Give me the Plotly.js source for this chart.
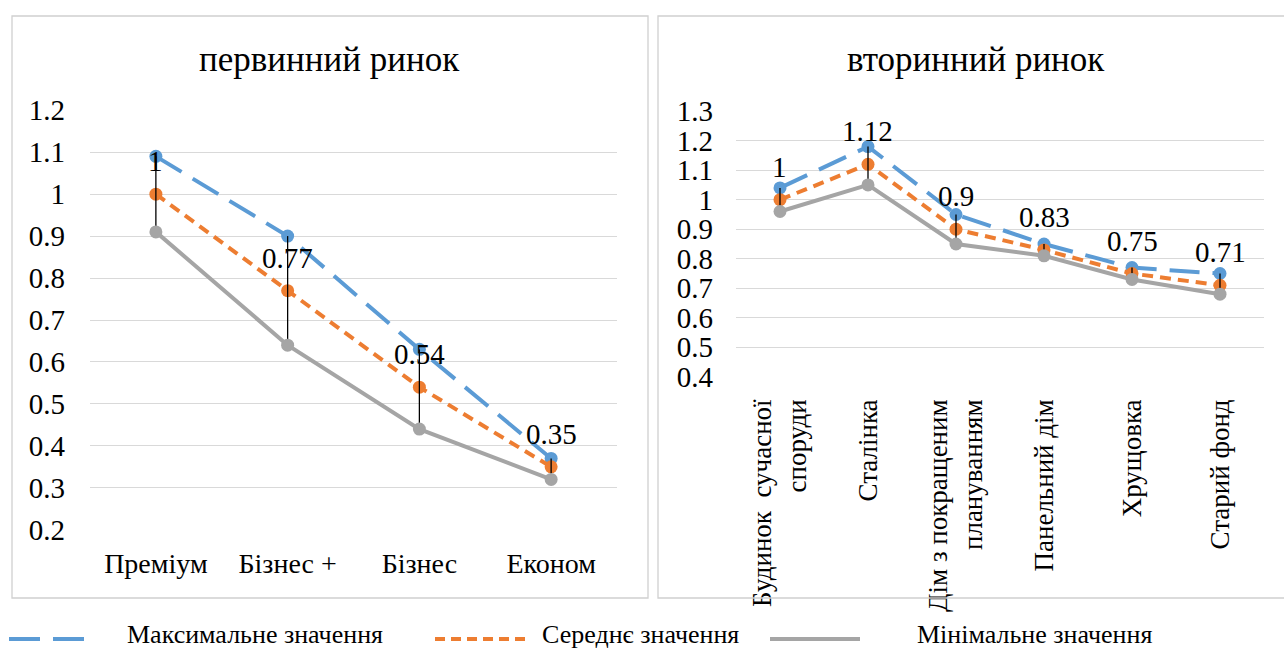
<!DOCTYPE html>
<html>
<head>
<meta charset="utf-8">
<script src="https://cdn.plot.ly/plotly-3.0.1.min.js"></script>
</head>
<body style="margin:0">
<div id="chart" style="width:1284px;height:651px"></div>
<script>
// ---- data ----
const categoriesPrimary = ['Преміум', 'Бізнес +', 'Бізнес', 'Економ'];
const maxPrimary  = [1.09, 0.90, 0.63, 0.37];
const meanPrimary = [1.00, 0.77, 0.54, 0.35];
const minPrimary  = [0.91, 0.64, 0.44, 0.32];

const categoriesSecondary = ['Будинок  сучасної<br>споруди', 'Сталінка', 'Дім з покращеним<br>плануванням', 'Панельний дім', 'Хрущовка', 'Старий фонд'];
const maxSecondary  = [1.04, 1.18, 0.95, 0.85, 0.77, 0.75];
const meanSecondary = [1.00, 1.12, 0.90, 0.83, 0.75, 0.71];
const minSecondary  = [0.96, 1.05, 0.85, 0.81, 0.73, 0.68];

const seriesNames = ['Максимальне значення', 'Середнє значення', 'Мінімальне значення'];
const titles = ['первинний ринок', 'вторинний ринок'];

// ---- styling ----
const W = 1284, H = 651;
const FONT = 'Liberation Serif';
const BLUE = '#5B9BD5', ORANGE = '#ED7D31', GREY = '#A5A5A5';
const px = v => v / W;
const py = v => (H - v) / H;

function seriesTraces(cats, maxV, meanV, minV, xa, ya) {
  return [
    {x: cats, y: maxV, xaxis: xa, yaxis: ya, type: 'scatter', mode: 'lines+markers', name: seriesNames[0],
     line: {color: BLUE, width: 4, dash: '30px,13px'}, marker: {color: BLUE, size: 13}, showlegend: false},
    {x: cats, y: meanV, xaxis: xa, yaxis: ya, type: 'scatter', mode: 'lines+markers', name: seriesNames[1],
     line: {color: ORANGE, width: 4, dash: '11px,7px'}, marker: {color: ORANGE, size: 13}, showlegend: false},
    {x: cats, y: minV, xaxis: xa, yaxis: ya, type: 'scatter', mode: 'lines+markers', name: seriesNames[2],
     line: {color: GREY, width: 4}, marker: {color: GREY, size: 13}, showlegend: false,
     error_y: {type: 'data', symmetric: false, array: maxV.map((v, i) => v - minV[i]), arrayminus: minV.map(() => 0),
               width: 0, thickness: 1.3, color: '#000'}}
  ];
}

const data = [
  ...seriesTraces(categoriesPrimary, maxPrimary, meanPrimary, minPrimary, 'x', 'y'),
  ...seriesTraces(categoriesSecondary, maxSecondary, meanSecondary, minSecondary, 'x2', 'y2')
];

function labelAnnotations(cats, vals, xr, yr) {
  return cats.map((c, i) => ({
    x: c, y: vals[i], xref: xr, yref: yr, text: String(vals[i]), showarrow: false,
    xanchor: 'center', yanchor: 'middle',
    yshift: 33, font: {family: FONT, size: 29}
  }));
}

const gridColor = '#D9D9D9';

function paperText(text, x, y, size, xanchor) {
  return {text: text, xref: 'paper', yref: 'paper', x: px(x), y: py(y), xanchor: xanchor, yanchor: 'middle',
          showarrow: false, font: {family: FONT, size: size}};
}

const layout = {
  width: W, height: H,
  margin: {l: 0, r: 0, t: 0, b: 0},
  showlegend: false,
  font: {family: FONT, color: '#000000'},
  xaxis: {domain: [px(90), px(617)], type: 'category', range: [-0.5, 3.5], showgrid: false, zeroline: false,
          showline: false, ticks: '', tickfont: {family: FONT, size: 28}, ticklabelstandoff: 14},
  yaxis: {domain: [py(530), py(110)], range: [0.1995, 1.2005], dtick: 0.1, tick0: 0.2, showgrid: true, gridcolor: gridColor,
          gridwidth: 1.3, zeroline: false, showline: false, ticks: '', tickfont: {family: FONT, size: 29}, ticklabelstandoff: 24},
  xaxis2: {domain: [px(736), px(1264)], type: 'category', range: [-0.5, 5.5], showgrid: false, zeroline: false,
           showline: false, ticks: '', tickangle: -90, tickfont: {family: FONT, size: 27}, ticklabelstandoff: 16,
           anchor: 'y2'},
  yaxis2: {domain: [py(377), py(111)], range: [0.3995, 1.3005], dtick: 0.1, tick0: 0.4, showgrid: true, gridcolor: gridColor,
           gridwidth: 1.3, zeroline: false, showline: false, ticks: '', tickfont: {family: FONT, size: 29}, ticklabelstandoff: 22,
           anchor: 'x2'},
  shapes: [
    {type: 'rect', xref: 'paper', yref: 'paper', x0: px(12), x1: px(648), y0: py(598), y1: py(16), line: {color: '#D0D0D0', width: 1.3}},
    {type: 'rect', xref: 'paper', yref: 'paper', x0: px(658), x1: px(1290), y0: py(598), y1: py(16), line: {color: '#D0D0D0', width: 1.3}},
    // legend symbols
    {type: 'line', xref: 'paper', yref: 'paper', x0: px(9), x1: px(85), y0: py(639), y1: py(639), line: {color: BLUE, width: 4, dash: '31px,13px'}},
    {type: 'line', xref: 'paper', yref: 'paper', x0: px(435), x1: px(525), y0: py(639), y1: py(639), line: {color: ORANGE, width: 4, dash: '10px,6px'}},
    {type: 'line', xref: 'paper', yref: 'paper', x0: px(770), x1: px(860), y0: py(639), y1: py(639), line: {color: GREY, width: 4}}
  ],
  annotations: [
    paperText(titles[0], 330, 59, 35, 'center'),
    paperText(titles[1], 976, 59, 35, 'center'),
    ...labelAnnotations(categoriesPrimary, meanPrimary, 'x', 'y'),
    ...labelAnnotations(categoriesSecondary, meanSecondary, 'x2', 'y2'),
    paperText(seriesNames[0], 125, 634, 26, 'left'),
    paperText(seriesNames[1], 540, 634, 26, 'left'),
    paperText(seriesNames[2], 915, 634, 26, 'left')
  ]
};

Plotly.newPlot('chart', data, layout, {displayModeBar: false});
</script>
</body>
</html>
